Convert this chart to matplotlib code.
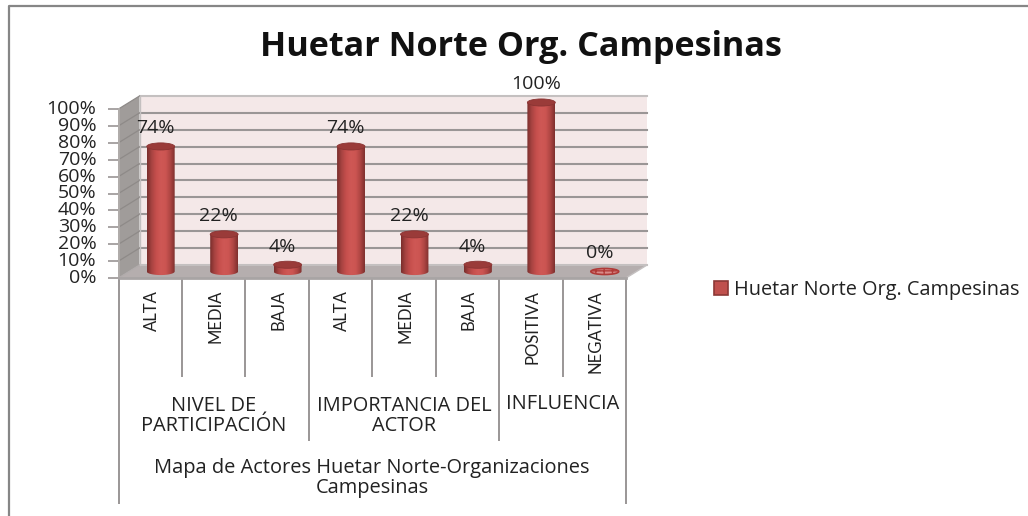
#!/usr/bin/env python3
"""Huetar Norte column chart with a fake-3D cylinder look."""

import matplotlib

matplotlib.use("Agg")
import matplotlib.pyplot as plt
import numpy as np
from matplotlib.colors import LinearSegmentedColormap
from matplotlib.patches import Ellipse, PathPatch, Patch, Polygon
from matplotlib.path import Path

TITLE = "Huetar Norte Org. Campesinas"
SERIES_NAME = "Huetar Norte Org. Campesinas"
CATEGORIES = ["ALTA", "MEDIA", "BAJA", "ALTA", "MEDIA", "BAJA", "POSITIVA", "NEGATIVA"]
VALUES = [74, 22, 4, 74, 22, 4, 100, 0]
GROUPS = ["NIVEL DE\nPARTICIPACIÓN", "IMPORTANCIA DEL\nACTOR", "INFLUENCIA"]
GROUP_SIZES = [3, 3, 2]
OUTER_LABEL = "Mapa de Actores Huetar Norte-Organizaciones\nCampesinas"
Y_TICKS = list(range(0, 101, 10))

W, H = 1028, 516
LEFT, RIGHT, TOP, BOTTOM = 118.5, 626.0, 109.0, 278.0
GREY = "#9a9696"
TEXT = "#222222"
FONT = "Open Sans"

fig = plt.figure(figsize=(W / 100, H / 100), dpi=100, facecolor="white")
ax = fig.add_axes([LEFT / W, 1 - BOTTOM / H, (RIGHT - LEFT) / W, (BOTTOM - TOP) / H], zorder=2)
ax.patch.set_visible(False)
n = len(VALUES)
ax.set_xlim(0, n)
ax.set_ylim(0, 100)
for spine in ax.spines.values():
    spine.set_visible(False)

# overlay in pixel coordinates for the frame and the multi level axis
over = fig.add_axes([0, 0, 1, 1], zorder=1)
over.set_xlim(0, W)
over.set_ylim(H, 0)
over.axis("off")
over.plot([8.5, 8.5, W], [H, 5.5, 5.5], color="#868686", lw=1.6, solid_capstyle="butt")

# depth of the box, in data units
dx = 21 / ((RIGHT - LEFT) / n)
dy = 13 / ((BOTTOM - TOP) / 100)

ax.add_patch(Polygon([(dx, dy), (n + dx, dy), (n + dx, 100 + dy), (dx, 100 + dy)], fc="#f4e8e8", ec="none", clip_on=False, zorder=1))
ax.add_patch(Polygon([(0, 0), (dx, dy), (dx, 100 + dy), (0, 100)], fc="#a09c9a", ec="none", clip_on=False, zorder=1))
ax.add_patch(Polygon([(0, 0), (n, 0), (n + dx, dy), (dx, dy)], fc="#b5aeae", ec="none", clip_on=False, zorder=1))
for v in Y_TICKS:
    top_line = v == 100
    ax.plot([dx, n + dx], [v + dy, v + dy], color="#c4c0c0" if top_line or v == 0 else GREY, lw=1.5, clip_on=False, zorder=2)
    ax.plot([0, dx], [v, v + dy], color="#8e8a88" if v else "#b0abab", lw=0.9, clip_on=False, zorder=2)
ax.plot([0, 0], [0, 100], color="#b0acaa", lw=1.4, clip_on=False, zorder=2)
ax.plot([dx, dx], [0 + dy, 100 + dy], color="#c4c0c0", lw=1.0, clip_on=False, zorder=2)
ax.plot([n, n + dx], [0, dy], color="#c4c0c0", lw=1.0, clip_on=False, zorder=2)
ax.plot([0, n], [0, 0], color="#a8a4a4", lw=2.0, clip_on=False, zorder=2)

# cylinders
shade = LinearSegmentedColormap.from_list("cyl", ["#7a2e2c", "#a94442", "#c64f4d", "#cf5855", "#cc5552", "#b04644", "#7f302e"])
gradient = np.linspace(0, 1, 64).reshape(1, -1)
bar_w = 0.44
cap_h = 4.2
base = dy / 2
for i, value in enumerate(VALUES):
    cx = i + 0.5 + dx / 2
    top = base + value
    if value == 0:
        ax.add_patch(Ellipse((cx, base), bar_w, cap_h * 0.85, fc="#d98a88", ec="#b03a38", lw=1.2, hatch="++", clip_on=False, zorder=4))
    else:
        t = np.linspace(np.pi, 2 * np.pi, 40)
        verts = [(cx - bar_w / 2, top)]
        verts += list(zip(cx + bar_w / 2 * np.cos(t), base + cap_h / 2 * np.sin(t)))
        verts += [(cx + bar_w / 2, top), (cx - bar_w / 2, top)]
        clip = PathPatch(Path(verts), transform=ax.transData, fc="none", ec="none")
        ax.add_patch(clip)
        img = ax.imshow(gradient, cmap=shade, aspect="auto", extent=(cx - bar_w / 2, cx + bar_w / 2, base - cap_h, top), zorder=3)
        img.set_clip_path(clip)
        img.set_clip_box(fig.bbox)
        ax.add_patch(Ellipse((cx, top), bar_w, cap_h, fc="#9a3b39", ec="#8a3433", lw=0.6, clip_on=False, zorder=4))
    ax.annotate(f"{value}%", (cx, top), xytext=(-5.5, 18), textcoords="offset pixels", ha="center", va="center", fontsize=14, color=TEXT, family=FONT, annotation_clip=False, zorder=5)
ax.set_xlim(0, n)
ax.set_ylim(0, 100)

ax.set_xticks([])
ax.set_yticks(Y_TICKS)
ax.set_yticklabels([f"{v}%" for v in Y_TICKS], fontsize=14, color=TEXT, family=FONT, va="center")
ax.tick_params(axis="y", length=8, width=1.4, color="#a8a4a4", pad=8)

# multi level category axis
step = (RIGHT - LEFT) / n
for i, label in enumerate(CATEGORIES):
    over.text(LEFT + (i + 0.5) * step + 1.5, 290, label, rotation=90, ha="center", va="top", fontsize=12, color=TEXT, family="Lato")
edges = np.cumsum([0] + GROUP_SIZES)
for i in range(n + 1):
    if i in (0, n):
        end = 504
    elif i in edges:
        end = 441
    else:
        end = 377
    over.plot([LEFT + i * step] * 2, [279, end], color=GREY, lw=1.4, solid_capstyle="butt")
for label, a, b in zip(GROUPS, edges[:-1], edges[1:]):
    y = 416 if "\n" in label else 404
    over.text(LEFT + (a + b) / 2 * step, y, label, ha="center", va="center", fontsize=14.4, color=TEXT, family=FONT, linespacing=1.05)
over.text((LEFT + RIGHT) / 2, 478, OUTER_LABEL, ha="center", va="center", fontsize=14.4, color=TEXT, family=FONT, linespacing=1.05)

over.text(521, 47, TITLE, ha="center", va="center", fontsize=24.6, fontweight="bold", color="#111111", family=FONT)

handle = Patch(fc="#c0504d", ec="#8c3836", lw=1.2, label=SERIES_NAME)
fig.legend(
    handles=[handle],
    loc="center left",
    bbox_to_anchor=(696 / W, 1 - 290 / H),
    frameon=False,
    handlelength=0.72,
    handleheight=0.72,
    handletextpad=0.3,
    prop={"family": FONT, "size": 14.3},
    labelcolor=TEXT,
)

fig.savefig("out.png", dpi=100)
